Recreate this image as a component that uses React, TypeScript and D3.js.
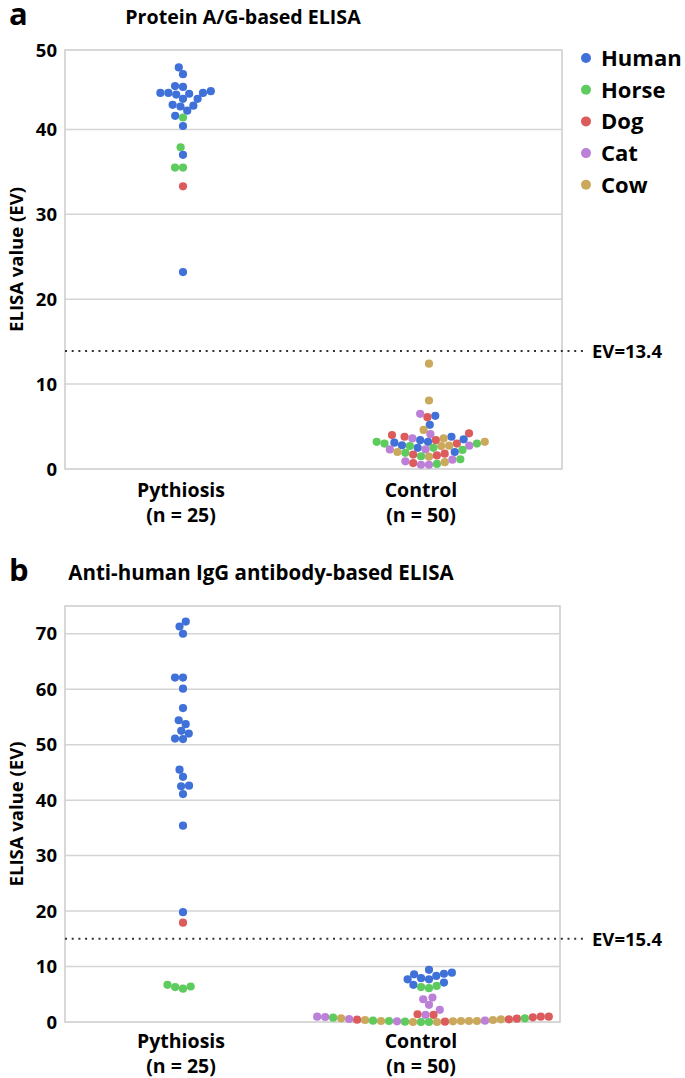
import React from "react";
import * as d3 from "d3";

// ---------- data ----------
const SPECIES = ["Human", "Horse", "Dog", "Cat", "Cow"];
const SPECIES_COLORS = ["#3f71d8", "#5ecb5e", "#dc5c5e", "#bc80d8", "#caa95c"];
const CATEGORIES = ["Pythiosis", "Control"];
const CATEGORY_N = ["(n = 25)", "(n = 50)"];

// Panel a: Protein A/G-based ELISA
const aTicks = [0, 10, 20, 30, 40, 50];
const aPythiosisValues = [47.3, 46.5, 45.1, 45.0, 44.3, 44.3, 44.2, 44.1, 44.3, 44.5, 43.6, 43.6, 42.8, 42.7, 42.9, 42.2, 41.6, 41.4, 40.4, 37.9, 37.0, 35.5, 35.5, 33.3, 23.2];
const aPythiosisSpecies = ["Human", "Human", "Human", "Human", "Human", "Human", "Human", "Human", "Human", "Human", "Human", "Human", "Human", "Human", "Human", "Human", "Human", "Horse", "Human", "Horse", "Human", "Horse", "Horse", "Dog", "Human"];
const aControlValues = [12.4, 8.07, 6.26, 6.1, 6.5, 5.2, 4.6, 4.0, 4.2, 4.1, 3.8, 3.6, 3.4, 3.8, 3.6, 3.2, 3.0, 3.2, 3.0, 3.1, 3.4, 3.5, 2.8, 3.0, 2.75, 2.75, 3.2, 2.7, 2.5, 2.25, 2.5, 2.7, 2.3, 2.3, 1.9, 1.8, 1.5, 1.45, 1.6, 1.7, 2.0, 2.0, 0.9, 0.7, 0.5, 0.5, 0.6, 0.8, 1.1, 1.15];
const aControlSpecies = ["Cow", "Cow", "Human", "Dog", "Cat", "Human", "Cow", "Dog", "Dog", "Cat", "Human", "Cow", "Dog", "Dog", "Cat", "Human", "Dog", "Horse", "Horse", "Human", "Human", "Human", "Human", "Horse", "Cow", "Cat", "Cow", "Cow", "Horse", "Horse", "Human", "Horse", "Cat", "Cat", "Horse", "Dog", "Horse", "Cow", "Dog", "Dog", "Human", "Cow", "Cat", "Dog", "Cat", "Cat", "Horse", "Cow", "Cat", "Horse"];
const aCutoffLabel = "EV=13.4";
const aCutoffDrawn = 13.9;

// Panel b: Anti-human IgG antibody-based ELISA
const bTicks = [0, 10, 20, 30, 40, 50, 60, 70];
const bPythiosisValues = [72.2, 71.3, 70.0, 62.1, 62.1, 60.1, 56.6, 54.4, 53.7, 52.5, 52.0, 51.1, 51.0, 45.5, 44.2, 42.5, 42.6, 41.1, 35.4, 19.8, 17.9, 6.7, 6.3, 6.0, 6.4];
const bPythiosisSpecies = ["Human", "Human", "Human", "Human", "Human", "Human", "Human", "Human", "Human", "Human", "Human", "Human", "Human", "Human", "Human", "Human", "Human", "Human", "Human", "Human", "Dog", "Horse", "Horse", "Horse", "Horse"];
const bControlValues = [9.4, 8.9, 8.3, 8.6, 8.7, 7.9, 7.7, 7.7, 6.7, 7.1, 6.3, 6.1, 6.5, 4.1, 4.4, 3.1, 2.2, 1.3, 1.4, 1.3,
  0.96, 0.84, 0.78, 0.6, 0.54, 0.48, 0.36, 0.24, 0.18, 0.18, 0.18, 0.06, 0.06, 0.0, 0.0, 0.0, 0.0, 0.12, 0.12, 0.18, 0.18, 0.24, 0.36, 0.42, 0.48, 0.66, 0.66, 0.9, 0.96, 0.96];
const bControlSpecies = ["Human", "Human", "Human", "Human", "Human", "Human", "Human", "Human", "Human", "Human", "Horse", "Horse", "Horse", "Cat", "Cat", "Cat", "Cat", "Cat", "Dog", "Dog",
  "Dog", "Dog", "Horse", "Dog", "Cat", "Cow", "Cow", "Horse", "Cow", "Horse", "Cow", "Dog", "Horse", "Horse", "Horse", "Cow", "Cow", "Cow", "Cat", "Cow", "Cow", "Cat", "Cow", "Dog", "Dog", "Cow", "Horse", "Cat", "Cat", "Dog"];
const bCutoffLabel = "EV=15.4";
const bCutoffDrawn = 15.0;

// ---------- helpers ----------
const FONT = "'Open Sans', 'DejaVu Sans', sans-serif";
const R = 4.1;
const D = 8.0;

function swarm(ys: number[], d: number): number[] {
  const order = ys.map((_, i) => i).sort((a, b) => ys[b] - ys[a]);
  const placed: { x: number; y: number }[] = [];
  const xs = new Array(ys.length).fill(0);
  for (const i of order) {
    const y = ys[i];
    const near = placed.filter((p) => Math.abs(p.y - y) < d);
    const cands = [0];
    for (const p of near) {
      const dx = Math.sqrt(d * d - (p.y - y) ** 2);
      cands.push(p.x + dx, p.x - dx);
    }
    cands.sort((a, b) => Math.abs(a) - Math.abs(b) || a - b);
    let best = 0;
    for (const c of cands) {
      if (near.every((p) => (p.x - c) ** 2 + (p.y - y) ** 2 >= d * d - 1e-6)) {
        best = c;
        break;
      }
    }
    xs[i] = best;
    placed.push({ x: best, y });
  }
  return xs;
}

const color = d3.scaleOrdinal<string, string>().domain(SPECIES).range(SPECIES_COLORS);

type PanelProps = {
  letter: string;
  title: string;
  titleX: number;
  titleY: number;
  titleSize: number;
  left: number;
  right: number;
  top: number;
  bottom: number;
  yMax: number;
  scaleTop: number;
  ticks: number[];
  groups: { values: number[]; species: string[] }[];
  cutoffDrawn: number;
  cutoffLabel: string;
  labelGap: number;
  legend: boolean;
};

function Panel(p: PanelProps) {
  const y = d3.scaleLinear().domain([0, p.yMax]).range([p.bottom, p.scaleTop]);
  const x = d3.scalePoint<string>().domain(CATEGORIES).range([183, 429]);
  const labelShift = [-2, -8];
  const cy = y(p.cutoffDrawn);
  return (
    <g>
      <text x={9} y={p.titleY + 1} fontFamily={FONT} fontWeight={700} fontSize={31}>{p.letter}</text>
      <text x={p.titleX} y={p.titleY} fontFamily={FONT} fontWeight={700} fontSize={p.titleSize} textAnchor="middle">{p.title}</text>
      {/* gridlines */}
      {p.ticks.filter((t) => t > 0 && y(t) > p.top + 2).map((t) => (
        <line key={t} x1={p.left} x2={p.right} y1={y(t)} y2={y(t)} stroke="#d4d4d4" strokeWidth={1.5} />
      ))}
      <rect x={p.left} y={p.top} width={p.right - p.left} height={p.bottom - p.top} fill="none" stroke="#cfcfcf" strokeWidth={1.6} />
      {/* tick labels */}
      {p.ticks.map((t) => (
        <text key={t} x={57} y={Math.max(y(t), p.top) + 6.5} fontFamily={FONT} fontWeight={700} fontSize={18.5} textAnchor="end">{t}</text>
      ))}
      <text transform={`translate(23,${(p.top + p.bottom) / 2}) rotate(-90)`} fontFamily={FONT} fontWeight={700} fontSize={18.5} textAnchor="middle">ELISA value (EV)</text>
      {/* cutoff */}
      <line x1={p.left} x2={584} y1={cy} y2={cy} stroke="#333" strokeWidth={2} strokeDasharray="2 4.7" />
      <text x={592} y={cy + 7} fontFamily={FONT} fontWeight={700} fontSize={18.5}>{p.cutoffLabel}</text>
      {/* x labels */}
      {CATEGORIES.map((c, i) => (
        <g key={c}>
          <text x={(x(c) as number) + labelShift[i]} y={p.bottom + p.labelGap} fontFamily={FONT} fontWeight={700} fontSize={19.5} textAnchor="middle">{c}</text>
          <text x={(x(c) as number) + labelShift[i]} y={p.bottom + p.labelGap + 25} fontFamily={FONT} fontWeight={700} fontSize={19.5} textAnchor="middle">{CATEGORY_N[i]}</text>
        </g>
      ))}
      {/* points */}
      {p.groups.map((g, gi) => {
        const ys = g.values.map((v) => y(v));
        const xs = swarm(ys, D);
        const cx0 = x(CATEGORIES[gi]) as number;
        return (
          <g key={gi}>
            {g.values.map((v, i) => (
              <circle key={i} cx={cx0 + xs[i]} cy={ys[i]} r={R} fill={color(g.species[i])} />
            ))}
          </g>
        );
      })}
      {p.legend &&
        SPECIES.map((s, i) => (
          <g key={s}>
            <circle cx={586} cy={58 + i * 31.7} r={5} fill={color(s)} />
            <text x={601} y={58 + i * 31.7 + 8} fontFamily={FONT} fontWeight={700} fontSize={22}>{s}</text>
          </g>
        ))}
    </g>
  );
}

export default function App() {
  return (
    <svg width={685} height={1078} style={{ position: "absolute", left: 0, top: 0, background: "#fff" }}>
      <rect width={685} height={1078} fill="#fff" />
      <Panel
        letter="a"
        title="Protein A/G-based ELISA"
        titleX={243}
        titleY={24}
        titleSize={19.6}
        left={65}
        right={562}
        top={50}
        bottom={469}
        yMax={50}
        scaleTop={44.5}
        ticks={aTicks}
        groups={[
          { values: aPythiosisValues, species: aPythiosisSpecies },
          { values: aControlValues, species: aControlSpecies },
        ]}
        cutoffDrawn={aCutoffDrawn}
        cutoffLabel={aCutoffLabel}
        labelGap={28}
        legend={true}
      />
      <Panel
        letter="b"
        title="Anti-human IgG antibody-based ELISA"
        titleX={261}
        titleY={580}
        titleSize={20.5}
        left={65}
        right={560}
        top={606}
        bottom={1022}
        yMax={75}
        scaleTop={606}
        ticks={bTicks}
        groups={[
          { values: bPythiosisValues, species: bPythiosisSpecies },
          { values: bControlValues, species: bControlSpecies },
        ]}
        cutoffDrawn={bCutoffDrawn}
        cutoffLabel={bCutoffLabel}
        labelGap={26}
        legend={false}
      />
    </svg>
  );
}
